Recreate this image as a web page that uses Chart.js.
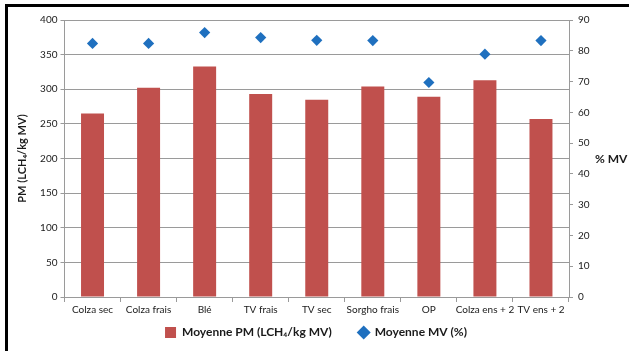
<!DOCTYPE html>
<html>
<head>
<meta charset="utf-8">
<script src="https://cdn.jsdelivr.net/npm/chart.js@4/dist/chart.umd.min.js"></script>
<style>
  html, body { margin: 0; padding: 0; background: #fff; }
  #wrap { position: relative; width: 629px; height: 351px; }
  canvas { display: block; }
</style>
</head>
<body>
<div id="wrap"><canvas id="c" width="629" height="351"></canvas></div>
<script>
const categories = ['Colza sec', 'Colza frais', 'Blé', 'TV frais', 'TV sec', 'Sorgho frais', 'OP', 'Colza ens + 2', 'TV ens + 2'];
const pmValues = [265, 302, 333, 293, 285, 304, 289, 313, 257];
const mvValues = [82.4, 82.4, 85.9, 84.3, 83.4, 83.3, 69.7, 78.9, 83.3];
const pmLabel = 'Moyenne PM (LCH\u2084/kg MV)';
const mvLabel = 'Moyenne MV (%)';
const leftTitle = 'PM (LCH\u2084/kg MV)';
const rightTitle = '% MV';

const FONT = 'Lato, "Noto Sans", sans-serif';
const GRID = '#9a9a9a';
const TXT = '#1a1a1a';
const RED = '#C0504D';
const BLUE = '#1f70bf';

const framePlugin = {
  id: 'frame',
  beforeDraw(chart) {
    const ctx = chart.ctx;
    ctx.save();
    ctx.fillStyle = '#fff';
    ctx.fillRect(0, 0, chart.width, chart.height);
    ctx.fillStyle = '#000';
    ctx.fillRect(5, 4, chart.width - 5, 3);
    ctx.fillRect(5, 4, 3, chart.height - 4);
    ctx.restore();
  },
  afterDraw(chart) {
    const ctx = chart.ctx;
    const a = chart.chartArea;
    ctx.save();
    ctx.fillStyle = TXT;
    ctx.font = 'bold 12px ' + FONT;
    ctx.textAlign = 'left';
    ctx.textBaseline = 'middle';
    ctx.fillText(rightTitle, 595, (a.top + a.bottom) / 2 + 1);

    // legend built from the datasets
    const ds = chart.data.datasets;
    const cy = 332.5;
    const box = 11, gapText = 6, gapItem = 25;
    ctx.font = 'bold 12px ' + FONT;
    const w0 = box + gapText + ctx.measureText(ds[0].label).width;
    const w1 = 14 + gapText - 2 + ctx.measureText(ds[1].label).width;
    let x = 316 - (w0 + gapItem + w1) / 2;
    ctx.fillStyle = ds[0].backgroundColor;
    ctx.fillRect(x, cy - box / 2, box, box);
    ctx.fillStyle = TXT;
    ctx.fillText(ds[0].label, x + box + gapText, cy);
    x += w0 + gapItem;
    const r = 7;
    ctx.fillStyle = ds[1].pointBackgroundColor;
    ctx.beginPath();
    ctx.moveTo(x, cy);
    ctx.lineTo(x + r, cy - r);
    ctx.lineTo(x + 2 * r, cy);
    ctx.lineTo(x + r, cy + r);
    ctx.closePath();
    ctx.fill();
    ctx.fillStyle = TXT;
    ctx.fillText(ds[1].label, x + 2 * r + gapText - 2, cy);
    ctx.restore();
  }
};

new Chart(document.getElementById('c'), {
  type: 'bar',
  data: {
    labels: categories,
    datasets: [
      {
        label: pmLabel,
        data: pmValues,
        backgroundColor: RED,
        borderWidth: 0,
        categoryPercentage: 1,
        barPercentage: 0.41,
        yAxisID: 'y'
      },
      {
        type: 'line',
        label: mvLabel,
        data: mvValues,
        showLine: false,
        pointStyle: 'rectRot',
        pointRadius: 5.6,
        pointHoverRadius: 5.6,
        pointBackgroundColor: BLUE,
        pointBorderColor: BLUE,
        pointBorderWidth: 0,
        backgroundColor: BLUE,
        borderColor: BLUE,
        yAxisID: 'y1'
      }
    ]
  },
  options: {
    responsive: false,
    animation: false,
    devicePixelRatio: 1,
    layout: { padding: { left: 0, right: 0, top: 20, bottom: 32 } },
    plugins: {
      tooltip: { enabled: false },
      legend: { display: false }
    },
    scales: {
      x: {
        offset: true,
        grid: { display: true, drawOnChartArea: false, offset: true, color: GRID, tickLength: 5 },
        border: { color: GRID, width: 1 },
        ticks: { font: { family: FONT, size: 10 }, color: TXT, padding: 2, maxRotation: 0, autoSkip: false },
        afterFit(s) { s.height = 22; }
      },
      y: {
        position: 'left',
        min: 0, max: 400,
        ticks: { stepSize: 50, font: { family: FONT, size: 10 }, color: TXT, padding: 3 },
        grid: { color: GRID, tickLength: 4 },
        border: { color: GRID },
        title: { display: true, text: leftTitle, font: { family: FONT, size: 11, weight: 'bold' }, color: TXT, padding: { top: 16, bottom: 0 } },
        afterFit(s) { s.width = 64.5; }
      },
      y1: {
        position: 'right',
        min: 0, max: 90,
        ticks: { stepSize: 10, font: { family: FONT, size: 10 }, color: TXT, padding: 5 },
        grid: { drawOnChartArea: false, color: GRID, tickLength: 4 },
        border: { color: GRID },
        afterFit(s) { s.width = 60; }
      }
    }
  },
  plugins: [framePlugin]
});
</script>
</body>
</html>
